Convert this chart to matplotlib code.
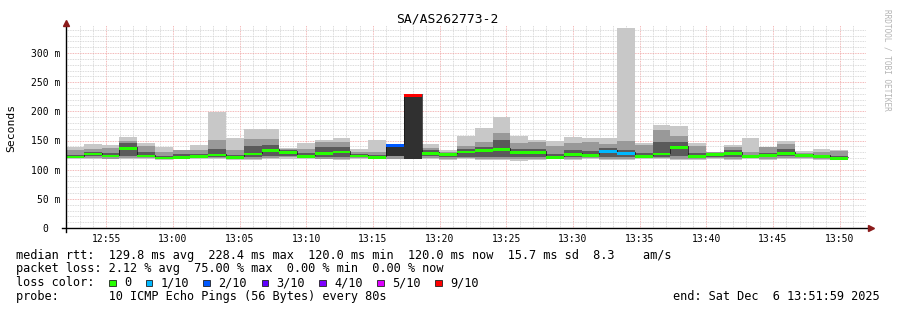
import numpy as np
import matplotlib
matplotlib.use("Agg")
import matplotlib.pyplot as plt
from matplotlib.patches import Rectangle
from matplotlib.ticker import MultipleLocator, FuncFormatter

# czas startu pierwszego pomiaru (minuty od 12:00) i krok 80 s
start_min = 51 + 59 / 60
step_min = 80 / 60

# mediana RTT [ms] dla kolejnych 44 przedzialow
median = [122.2, 127.4, 124.0, 137.0, 124.0, 120.5, 121.4, 122.9, 125.7, 121.4,
          127.4, 134.0, 130.5, 123.5, 129.0, 130.8, 124.0, 121.0, 142.3, 228.4,
          129.0, 126.0, 130.8, 132.6, 134.9, 130.1, 130.1, 121.0, 126.8, 125.1,
          131.9, 128.5, 123.7, 127.4, 138.3, 122.3, 126.0, 128.0, 122.3, 124.6,
          129.0, 125.1, 122.3, 120.0]
# najwolniejszy ping
smoke_max = [139.0, 144.0, 141.6, 156.0, 145.7, 139.4, 134.3, 142.5, 198.3, 153.7,
             169.7, 169.7, 137.7, 146.4, 150.9, 154.3, 135.4, 150.9, 143.0, 228.4,
             143.4, 133.7, 158.2, 171.9, 190.2, 157.7, 150.9, 149.1, 156.5, 154.8,
             153.7, 343.4, 145.1, 176.6, 174.9, 145.7, 130.8, 142.3, 154.8, 139.4,
             149.7, 131.9, 135.9, 134.3]
# najszybszy ping
smoke_min = [118.0, 119.0, 117.5, 118.0, 118.5, 117.0, 118.0, 118.5, 118.0, 117.0,
             116.5, 118.0, 119.0, 118.0, 117.5, 117.0, 118.0, 117.5, 118.0, 118.0,
             118.0, 117.0, 117.5, 116.0, 116.0, 115.5, 116.0, 118.0, 117.0, 117.5,
             117.0, 117.0, 118.0, 118.0, 116.0, 117.0, 118.0, 117.0, 118.0, 117.0,
             117.5, 118.0, 117.0, 117.0]
# srodkowa warstwa dymu
mid_hi = [133.0, 135.0, 137.7, 149.0, 141.0, 131.0, 134.0, 133.0, 151.0, 133.0,
          152.0, 152.0, 135.0, 135.0, 147.0, 147.0, 131.0, 131.0, 142.3, 228.4,
          138.0, 131.0, 141.0, 147.0, 163.0, 145.0, 147.0, 141.0, 145.0, 147.0,
          144.0, 149.0, 142.0, 168.0, 158.0, 141.0, 131.0, 138.0, 131.0, 139.0,
          144.0, 128.0, 131.0, 132.0]
mid_lo = [119.5, 120.5, 119.0, 120.0, 120.0, 118.5, 119.5, 120.0, 120.0, 118.5,
          118.5, 120.0, 121.0, 119.5, 119.0, 119.0, 119.5, 119.0, 119.0, 119.0,
          120.0, 119.0, 119.5, 118.5, 118.5, 118.0, 118.5, 119.5, 119.0, 119.5,
          119.0, 119.0, 119.5, 120.0, 118.5, 119.0, 120.0, 119.0, 119.5, 119.0,
          119.5, 119.5, 119.0, 118.5]
# ciemny rdzen wokol mediany
core_hi = [126.0, 131.0, 128.0, 145.0, 130.0, 124.0, 127.0, 127.0, 136.0, 125.0,
           140.0, 142.0, 133.0, 128.0, 138.0, 138.0, 127.0, 125.0, 142.3, 228.4,
           134.0, 129.0, 136.0, 139.0, 150.0, 136.0, 136.0, 127.0, 133.0, 132.0,
           137.0, 134.0, 128.0, 148.0, 148.0, 128.0, 129.0, 133.0, 126.0, 129.0,
           136.0, 127.0, 126.0, 124.0]
core_lo = [121.0, 123.0, 121.0, 123.0, 121.0, 119.5, 120.0, 121.0, 121.0, 119.5,
           121.0, 123.0, 124.0, 121.0, 122.0, 122.0, 121.0, 119.5, 124.0, 119.0,
           123.0, 121.0, 122.0, 121.0, 122.0, 121.0, 121.0, 119.5, 121.0, 121.0,
           122.0, 122.0, 121.0, 122.0, 124.0, 120.0, 121.0, 122.0, 120.0, 121.0,
           123.0, 121.0, 120.0, 119.0]
# liczba utraconych pingow na 10
loss = [0] * 44
loss[18] = 2
loss[19] = 9
loss[30] = 1
loss[31] = 1

loss_labels = ['0', '1/10', '2/10', '3/10', '4/10', '5/10', '9/10']
loss_keys = [0, 1, 2, 3, 4, 5, 9]
loss_colors = ['#26ff00', '#00b8ff', '#0059ff', '#5e00ff', '#7e00ff', '#dd00ff', '#ff0000']

title = 'SA/AS262773-2'
line_rtt = 'median rtt:  129.8 ms avg  228.4 ms max  120.0 ms min  120.0 ms now  15.7 ms sd  8.3    am/s'
line_loss = 'packet loss: 2.12 % avg  75.00 % max  0.00 % min  0.00 % now'
line_probe = 'probe:       10 ICMP Echo Pings (56 Bytes) every 80s'
line_end = 'end: Sat Dec  6 13:51:59 2025'

W, H = 897, 310
MONO = 'DejaVu Sans Mono'


def fx(x):
    return x / W


def fy(y):
    return 1 - y / H


fig = plt.figure(figsize=(W / 100, H / 100), dpi=100)
fig.patch.set_facecolor('white')
ax = fig.add_axes([fx(66), fy(228), 800 / W, 203 / H])

x_left = start_min + np.arange(len(median)) * step_min
med = np.array(median)

# warstwy dymu
ax.bar(x_left, np.array(smoke_max) - np.array(smoke_min), bottom=smoke_min,
       width=step_min, align='edge', color='#c8c8c8', linewidth=0, zorder=2)
ax.bar(x_left, np.array(mid_hi) - np.array(mid_lo), bottom=mid_lo,
       width=step_min, align='edge', color='#999999', linewidth=0, zorder=3)
core_colors = ['#303030' if k >= 2 else '#5a5a5a' for k in loss]
ax.bar(x_left, np.array(core_hi) - np.array(core_lo), bottom=core_lo,
       width=step_min, align='edge', color=core_colors, linewidth=0, zorder=4)

# mediana w kolorze strat
color_map = dict(zip(loss_keys, loss_colors))
band_colors = [color_map[k] for k in loss]
edges = np.append(x_left, x_left[-1] + step_min)
ax.step(edges, np.append(med, med[-1]) + 2.0, where='post', color='#111111', lw=0.5, zorder=5)
ax.bar(x_left, 5.0, bottom=med - 3.0, width=step_min, align='edge',
       color=band_colors, linewidth=0, zorder=6)

ax.set_xlim(start_min, start_min + 60)
ax.set_ylim(0, 348)

ax.xaxis.set_major_locator(MultipleLocator(5))
ax.xaxis.set_minor_locator(MultipleLocator(1))
ax.yaxis.set_major_locator(MultipleLocator(50))
ax.yaxis.set_minor_locator(MultipleLocator(10))
ax.xaxis.set_major_formatter(FuncFormatter(lambda v, p: f'{12 + int(v) // 60}:{int(round(v)) % 60:02d}'))
ax.yaxis.set_major_formatter(FuncFormatter(lambda v, p: '0  ' if v == 0 else f'{v:.0f} m'))

ax.grid(which='minor', color='#cfcfcf', linestyle=(0, (1, 1)), lw=0.6)
ax.grid(which='major', color='#f0a0a0', linestyle=(0, (1, 1)), lw=0.6)
ax.set_axisbelow(True)

for s in ['top', 'right', 'left', 'bottom']:
    ax.spines[s].set_visible(False)
ax.tick_params(which='both', length=0, labelsize=7, pad=4)
for lab in ax.get_xticklabels() + ax.get_yticklabels():
    lab.set_family(MONO)

# osie ze strzalkami
ax.plot([-0.005, 1.004], [0, 0], transform=ax.transAxes, color='black', lw=1, clip_on=False, zorder=7)
ax.plot([0, 0], [-0.02, 1.0], transform=ax.transAxes, color='black', lw=1, clip_on=False, zorder=7)
ax.plot([1.006], [0], transform=ax.transAxes, marker='>', ms=4, color='#8b1a1a', clip_on=False, zorder=8)
ax.plot([0], [1.01], transform=ax.transAxes, marker='^', ms=4, color='#8b1a1a', clip_on=False, zorder=8)

fig.text(fx(447.5), fy(19.5), title, ha='center', va='center', family=MONO, fontsize=9.4)
fig.text(fx(11), fy(128), 'Seconds', rotation=90, ha='center', va='center', family=MONO, fontsize=8.2)
fig.text(fx(886.5), fy(60), 'RRDTOOL / TOBI OETIKER', rotation=270, ha='center', va='center',
         family=MONO, fontsize=5.6, color='#b4b4b4')

fs = 8.6
fig.text(fx(16), fy(255), line_rtt, ha='left', va='center', family=MONO, fontsize=fs)
fig.text(fx(16), fy(268.5), line_loss, ha='left', va='center', family=MONO, fontsize=fs)
fig.text(fx(16), fy(282.5), 'loss color:', ha='left', va='center', family=MONO, fontsize=fs)
fig.text(fx(16), fy(296.5), line_probe, ha='left', va='center', family=MONO, fontsize=fs)
fig.text(fx(880), fy(296.5), line_end, ha='right', va='center', family=MONO, fontsize=fs)

sq_x = [109, 145.7, 203.3, 261.7, 319.3, 377, 435]
for sx, lab, col in zip(sq_x, loss_labels, loss_colors):
    fig.add_artist(Rectangle((fx(sx), fy(286)), 6.5 / W, 6.5 / H, transform=fig.transFigure,
                             facecolor=col, edgecolor='#202020', lw=0.6))
    fig.text(fx(sx + 15), fy(282.5), lab, ha='left', va='center', family=MONO, fontsize=fs)

fig.savefig('out.png', dpi=100)
